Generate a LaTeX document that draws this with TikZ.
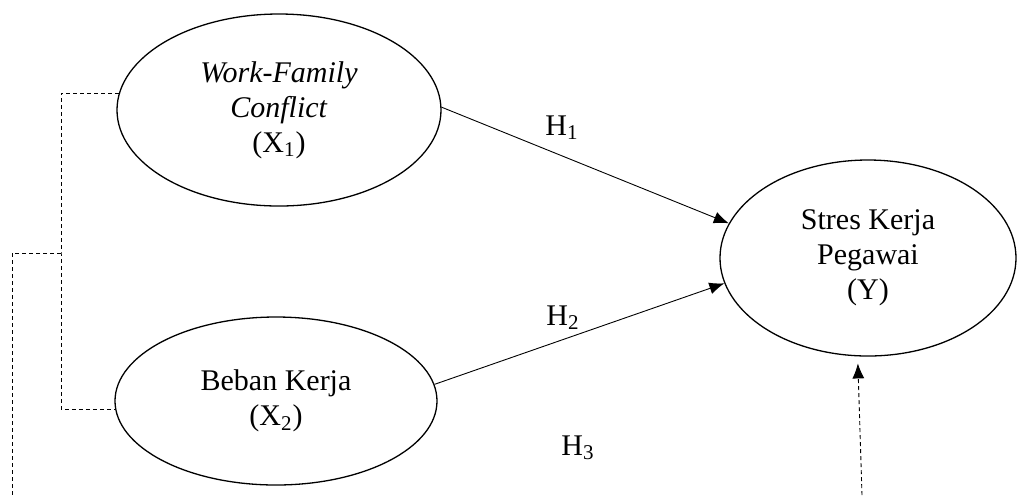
\documentclass[tikz,border=0pt]{standalone}
\usepackage{fontspec}
\setmainfont{Liberation Serif}
\usetikzlibrary{shapes.geometric,arrows.meta}

\begin{document}
\begin{tikzpicture}[x=0.5pt,y=-0.5pt,
    latent/.style={ellipse,draw,line width=0.65pt,inner sep=0pt,align=center,
        font=\fontsize{15}{17.5}\selectfont},
    hyp/.style={font=\fontsize{15}{17.5}\selectfont},
    path/.style={line width=0.45pt,-{Latex[length=7.5pt,width=6pt]}},
    corr/.style={line width=0.5pt,dash pattern=on 2pt off 1.5pt}]
    \useasboundingbox (0,0) rectangle (1018,495);

    \node[latent,minimum width=162pt,minimum height=96pt] (x1) at (279,110)
        {\textit{Work-Family}\\ \textit{Conflict}\\ (X\textsubscript{1})};
    \node[latent,minimum width=161pt,minimum height=84pt] (x2) at (276,401)
        {Beban Kerja\\ (X\textsubscript{2})};
    \node[latent,minimum width=148pt,minimum height=98pt] (y)  at (868,258)
        {Stres Kerja\\ Pegawai\\ (Y)};

    \node[hyp] (h1) at (562,128) {H\textsubscript{1}};
    \node[hyp] (h2) at (563,318) {H\textsubscript{2}};
    \node[hyp] (h3) at (578,448) {H\textsubscript{3}};

    \coordinate (br)    at (61,253);
    \coordinate (bl)    at (12,253);
    \coordinate (bend)  at (12,495);
    \coordinate (h3src) at (862,495);

    % hypothesised paths
    \draw[path] (x1.1) -- (y.166);
    \draw[path] (x2.6) -- (y.190);
    \draw[path,dash pattern=on 2pt off 1.5pt,shorten >=3.5pt] (h3src) -- (y.264);

    % simultaneous bracket
    \draw[corr] (x1.174) -| (br) |- (x2.183);
    \draw[corr] (br) -- (bl) -- (bend);
\end{tikzpicture}
\end{document}
